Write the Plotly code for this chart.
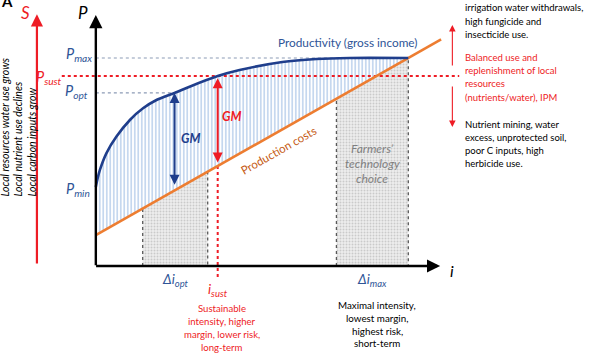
import numpy as np
import plotly.graph_objects as go

# ---------------- data (conceptual units: intensity i, productivity P) ----------------
prod_i = [0.0, 0.006, 0.013, 0.034, 0.066, 0.109, 0.151, 0.194, 0.252, 0.300, 0.390,
          0.460, 0.597, 0.706, 0.812, 1.0]
prod_p = [0.380, 0.423, 0.462, 0.543, 0.622, 0.702, 0.758, 0.798, 0.832, 0.862, 0.913,
          0.942, 0.981, 0.995, 1.0, 1.0]
cost_i = [0.0, 1.105]
cost_p = [0.149, 1.089]

P_MIN, P_OPT, P_SUST, P_MAX = 0.38, 0.832, 0.913, 1.0
I_OPT, I_SUST, I_MAX = 0.252, 0.39, 1.0
delta_opt = [0.150, 0.358]
delta_max = [0.770, 1.0]

p_labels = ["<i>P<sub>max</sub></i>", "<i>P<sub>sust</sub></i>", "<i>P<sub>opt</sub></i>", "<i>P<sub>min</sub></i>"]
i_labels = ["<i>Δi<sub>opt</sub></i>", "<i>i<sub>sust</sub></i>", "<i>Δi<sub>max</sub></i>"]
left_lines = ["Local resources water use grows", "Local nutrient use declines", "Local carbon inputs grow"]
right_top = ["irrigation water withdrawals,", "high fungicide and", "insecticide use."]
right_mid = ["Balanced use and", "replenishment of local", "resources", "(nutrients/water), IPM"]
right_bot = ["Nutrient mining, water", "excess, unprotected soil,", "poor C inputs, high", "herbicide use."]
sust_text = ["Sustainable", "intensity, higher", "margin, lower risk,", "long-term"]
max_text = ["Maximal intensity,", "lowest margin,", "highest risk,", "short-term"]
tech_text = ["Farmers’", "technology", "choice"]

# ---------------- styles ----------------
W, H = 589, 359
XR = [-0.3067, 1.5783]
YR = [-0.4471, 1.2788]
FONT = "Lato"
BLUE = "#1F3E8C"
LBLUE = "#2F5597"
ORANGE = "#ED7D31"
RED = "#EE1C25"
GREY = "#595959"


def cost(x):
    return np.interp(x, cost_i, cost_p)


def px(xp):
    return xp / W


def py(yp):
    return 1 - yp / H


fig = go.Figure()

# grey technology regions under the cost line
for lo, hi in (delta_opt, delta_max):
    fig.add_trace(go.Scatter(
        x=[lo, lo, hi, hi, lo], y=[0, cost(lo), cost(hi), 0, 0],
        mode="lines", fill="toself", fillcolor="#e6e6e6",
        fillpattern=dict(shape=".", fgcolor="#a8a8a8", bgcolor="#ededed", size=3, solidity=0.35),
        line=dict(color=GREY, width=1.3, dash="dot"), hoverinfo="skip", showlegend=False))

# hatched gross-margin area between productivity and costs
fig.add_trace(go.Scatter(x=[0, I_MAX], y=[cost(0), cost(I_MAX)], mode="lines",
                         line=dict(width=0, color="rgba(0,0,0,0)"), hoverinfo="skip", showlegend=False))
fig.add_trace(go.Scatter(x=prod_i, y=prod_p, mode="lines", fill="tonexty", fillcolor="white",
                         fillpattern=dict(shape="|", fgcolor="#7FA7DB", bgcolor="white", size=3.5, solidity=0.45),
                         line=dict(color="rgba(0,0,0,0)", width=0, shape="spline", smoothing=0.6),
                         hoverinfo="skip", showlegend=False))

# dotted reference lines
fig.add_trace(go.Scatter(x=[0, I_MAX], y=[P_MAX, P_MAX], mode="lines",
                         line=dict(color="#8c9bb5", width=1.2, dash="dot"), hoverinfo="skip", showlegend=False))
fig.add_trace(go.Scatter(x=[0, I_OPT], y=[P_OPT, P_OPT], mode="lines",
                         line=dict(color="#8c9bb5", width=1.2, dash="dot"), hoverinfo="skip", showlegend=False))
fig.add_trace(go.Scatter(x=[-0.109, 1.163], y=[P_SUST, P_SUST], mode="lines",
                         line=dict(color=RED, width=2, dash="dot"), hoverinfo="skip", showlegend=False))
fig.add_trace(go.Scatter(x=[I_SUST, I_SUST], y=[cost(I_SUST), -0.058], mode="lines",
                         line=dict(color=RED, width=2, dash="dot"), hoverinfo="skip", showlegend=False))

# productivity and cost curves
fig.add_trace(go.Scatter(x=cost_i, y=cost_p, mode="lines", line=dict(color=ORANGE, width=2.6),
                         hoverinfo="skip", showlegend=False))
fig.add_trace(go.Scatter(x=prod_i, y=prod_p, mode="lines",
                         line=dict(color=BLUE, width=2.6, shape="spline", smoothing=0.6),
                         hoverinfo="skip", showlegend=False))

ann = []


def arrow(x0, y0, x1, y1, color, width, both=False, head=2, size=1.0):
    ann.append(dict(x=x1, y=y1, ax=x0, ay=y0, xref="x", yref="y", axref="x", ayref="y",
                    showarrow=True, arrowhead=head, startarrowhead=head, arrowsize=size,
                    startarrowsize=size, arrowwidth=width, arrowcolor=color, text="",
                    arrowside="end+start" if both else "end", standoff=0, startstandoff=0))


# axes
arrow(0, -0.004, 0, 1.207, "black", 2.4, size=1.1)
arrow(-0.004, 0, 1.102, 0, "black", 2.4, size=1.1)
arrow(-0.1885, 0.005, -0.1885, 1.21, RED, 2.2, size=1.1)
# GM arrows
arrow(I_OPT, cost(I_OPT) + 0.02, I_OPT, P_OPT, BLUE, 2, both=True, size=1.0)
arrow(I_SUST, cost(I_SUST) + 0.01, I_SUST, P_SUST - 0.01, RED, 2, both=True, size=1.0)
# right side arrows
arrow(1.141, 0.957, 1.141, 1.159, RED, 1.1, head=2, size=1.2)
arrow(1.141, 0.870, 1.141, 0.668, RED, 1.1, head=2, size=1.2)


def text(x, y, t, size=11, color="black", xanchor="center", yanchor="middle", ref="paper",
         align="center", angle=0, bold=False, italic=False, yshift=0):
    if italic:
        t = "<i>" + t + "</i>"
    if bold:
        t = "<b>" + t + "</b>"
    ann.append(dict(x=x, y=y, xref="paper" if ref == "paper" else "x", yref="paper" if ref == "paper" else "y",
                    text=t, showarrow=False, xanchor=xanchor, yanchor=yanchor, align=align,
                    textangle=angle, yshift=yshift,
                    font=dict(family=FONT, size=size, color=color)))


def lines(xp, y0, step, items, size, color, xanchor="center", italic=False):
    for k, t in enumerate(items):
        text(px(xp), py(y0 + k * step), t, size=size, color=color, xanchor=xanchor,
             align=xanchor if xanchor != "center" else "center", italic=italic)


text(px(7), py(1), "A", size=15, bold=True)
text(px(25), py(12), "S", size=17, color=RED, italic=True)
text(px(83), py(12), "P", size=17, italic=True)
text(px(452), py(270), "i", size=16, italic=True)

# P level labels
text(-0.006, P_MAX, p_labels[0], size=14.5, color=LBLUE, xanchor="right", ref="data", yshift=3)
text(-0.102, P_SUST, p_labels[1], size=14.5, color=RED, xanchor="right", ref="data", yshift=-1)
text(-0.020, P_OPT, p_labels[2], size=14.5, color=LBLUE, xanchor="right", ref="data", yshift=1)
text(-0.013, P_MIN, p_labels[3], size=14.5, color=LBLUE, xanchor="right", ref="data", yshift=-3)

# i labels
text(np.mean(delta_opt), -0.075, i_labels[0], size=13.5, color=LBLUE, ref="data", yshift=2)
text(I_SUST, -0.125, i_labels[1], size=13.5, color=RED, ref="data", yshift=2)
text(np.mean(delta_max), -0.075, i_labels[2], size=13.5, color=LBLUE, ref="data", yshift=2)

# curve labels
text(px(347), py(43), "Productivity (gross income)", size=11.8, color=LBLUE)
text(px(278), py(150), "Production costs", size=11.5, color="#C55A11", angle=-29.6)
text(px(190), py(139), "GM", size=12.5, color=BLUE, bold=True, italic=True)
text(px(231), py(117), "GM", size=12.5, color=RED, bold=True, italic=True)
lines(372, 148, 15, tech_text, 12, "#7f7f7f", italic=True)

# bottom text blocks
lines(222, 308, 13, sust_text, 9.6, RED)
lines(377, 305, 12.8, max_text, 9.8, "black")

# right text blocks
lines(463, 8, 13.3, right_top, 9.5, "black", xanchor="left")
lines(463, 57.5, 13.2, right_mid, 9.5, RED, xanchor="left")
lines(463, 124.5, 13, right_bot, 9.5, "black", xanchor="left")

# left rotated text
text(px(18.5), py(128), "<br>".join(left_lines), size=10.5, color="black", italic=True,
     angle=-90, align="left")

fig.update_layout(
    width=W, height=H, autosize=False, margin=dict(l=0, r=0, t=0, b=0),
    paper_bgcolor="white", plot_bgcolor="white",
    xaxis=dict(range=XR, visible=False, fixedrange=True),
    yaxis=dict(range=YR, visible=False, fixedrange=True),
    annotations=ann, showlegend=False,
)
fig.write_html("out.html", config={"displayModeBar": False, "staticPlot": True},
               post_script="document.body.style.margin='0px';document.body.style.overflow='hidden';")
